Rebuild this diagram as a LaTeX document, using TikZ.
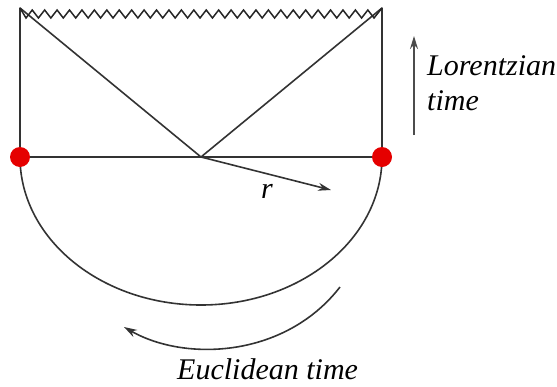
\documentclass[tikz,border=0pt]{standalone}
\usepackage{fontspec}
\setmainfont{Liberation Serif}
\usetikzlibrary{arrows.meta}
\begin{document}
\begin{tikzpicture}[x=1pt,y=-1pt,
  ln/.style={line width=1.6pt,draw=black!80,line join=round},
  lbl/.style={font=\rmfamily\itshape\fontsize{30}{33}\selectfont,inner sep=0pt,anchor=base west},
  tip/.style={-{Stealth[length=13pt,width=8pt]}}]
\useasboundingbox (0,0) rectangle (557,386);
\coordinate (TL) at (20,8);
\coordinate (TR) at (382,8);
\coordinate (L) at (20,157);
\coordinate (R) at (382,157);
\coordinate (C) at (201,157);
% walls, horizon, diagonals
\draw[ln] (L) -- (TL) -- (C) -- (TR) -- (R);
\draw[ln] (L) -- (R);
% singularity zigzag
\draw[line width=1.5pt,draw=black!85,line join=miter]
  (TL) -- (26,18)
  \foreach \i in {1,...,28} { -- ({26+\i*12.43-6.2},10) -- ({26+\i*12.43},18) } -- (TR);
% Euclidean half disc
\draw[ln] (L) arc[start angle=180,end angle=0,x radius=181,y radius=148];
% r arrow
\coordinate (Rend) at (331,190);
\draw[ln,tip] (C) -- (Rend);
\node[lbl] (rl) at (261,198) {r};
% red dots
\fill[red!90!black] (L) circle (10);
\fill[red!90!black] (R) circle (10);
% Lorentzian time
\coordinate (Lb) at (414,135);
\coordinate (Lt) at (414,36);
\draw[line width=1.6pt,draw=black!70,tip] (Lb) -- (Lt);
\node[lbl] (lt1) at (427,75) {Lorentzian};
\node[lbl] (lt2) at (427,110) {time};
% Euclidean time
\coordinate (Ea) at (340,287);
\coordinate (Eb) at (124,327);
\draw[ln,tip] (Ea) .. controls (285,358) and (185,362) .. (Eb);
\node[lbl] (et) at (177,379) {Euclidean time};
\end{tikzpicture}
\end{document}
